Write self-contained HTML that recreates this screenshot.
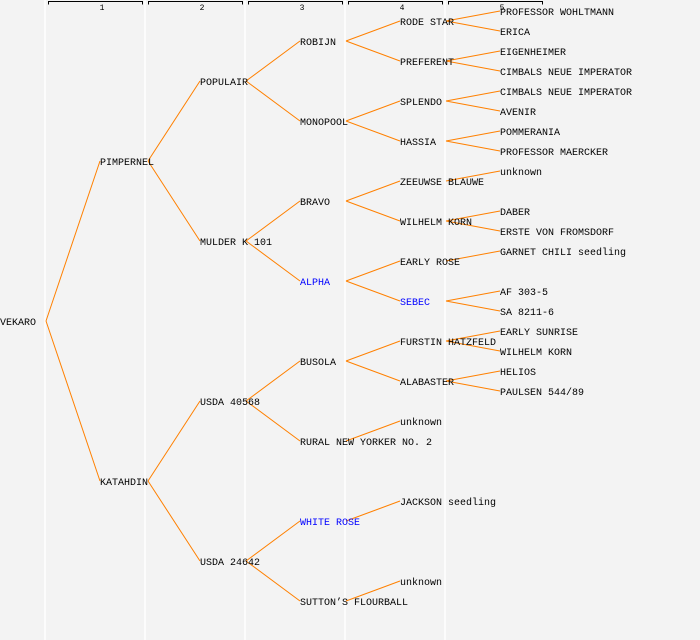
<!DOCTYPE html>
<html><head><style>
html,body{margin:0;padding:0;background:#f3f3f3;}
svg{display:block;}
text{font-family:"Liberation Mono","DejaVu Sans Mono",monospace;font-size:10px;fill:#000;}
.b{fill:#0000ff;}
.h{font-size:8px;}
</style></head><body>
<svg width="700" height="640" viewBox="0 0 700 640" xmlns="http://www.w3.org/2000/svg">
<rect width="700" height="640" fill="#f3f3f3"/>
<g stroke="#ffffff" stroke-width="1.5">
<line x1="45" y1="0" x2="45" y2="640"/><line x1="145" y1="0" x2="145" y2="640"/>
<line x1="245" y1="0" x2="245" y2="640"/><line x1="345" y1="0" x2="345" y2="640"/>
<line x1="445" y1="0" x2="445" y2="640"/>
</g>
<g stroke="#000" stroke-width="1" fill="none">
<path d="M48.5 4.5V1.5H142.5V4.5"/><path d="M148.5 4.5V1.5H242.5V4.5"/>
<path d="M248.5 4.5V1.5H342.5V4.5"/><path d="M348.5 4.5V1.5H442.5V4.5"/>
<path d="M448.5 4.5V1.5H542.5V4.5"/>
</g>
<g text-anchor="middle">
<text class="h" x="102" y="10">1</text><text class="h" x="202" y="10">2</text>
<text class="h" x="302" y="10">3</text><text class="h" x="402" y="10">4</text>
<text class="h" x="502" y="10">5</text>
</g>
<g stroke="#ff8000" stroke-width="1" fill="none">
<path d="M46 321L100 161M46 321L100 481"/>
<path d="M148 161L200 81M148 161L200 241M148 481L200 401M148 481L200 561"/>
<path d="M246 81L300 41M246 81L300 121M246 241L300 201M246 241L300 281M246 401L300 361M246 401L300 441M246 561L300 521M246 561L300 601"/>
<path d="M346 41L400 21M346 41L400 61M346 121L400 101M346 121L400 141M346 201L400 181M346 201L400 221M346 281L400 261M346 281L400 301M346 361L400 341M346 361L400 381M346 441L400 421M346 521L400 501M346 601L400 581"/>
<path d="M446 21L500 11M446 21L500 31M446 61L500 51M446 61L500 71M446 101L500 91M446 101L500 111M446 141L500 131M446 141L500 151M446 181L500 171M446 221L500 211M446 221L500 231M446 261L500 251M446 301L500 291M446 301L500 311M446 341L500 331M446 341L500 351M446 381L500 371M446 381L500 391"/>
</g>
<g transform="translate(0,-1)">
<text x="0" y="326">VEKARO</text>
<text x="100" y="166">PIMPERNEL</text>
<text x="100" y="486">KATAHDIN</text>
<text x="200" y="86">POPULAIR</text>
<text x="200" y="246">MULDER K 101</text>
<text x="200" y="406">USDA 40568</text>
<text x="200" y="566">USDA 24642</text>
<text x="300" y="46">ROBIJN</text>
<text x="300" y="126">MONOPOOL</text>
<text x="300" y="206">BRAVO</text>
<text x="300" y="286" class="b">ALPHA</text>
<text x="300" y="366">BUSOLA</text>
<text x="300" y="446">RURAL NEW YORKER NO. 2</text>
<text x="300" y="526" class="b">WHITE ROSE</text>
<text x="300" y="606">SUTTON’S FLOURBALL</text>
<text x="400" y="26">RODE STAR</text>
<text x="400" y="66">PREFERENT</text>
<text x="400" y="106">SPLENDO</text>
<text x="400" y="146">HASSIA</text>
<text x="400" y="186">ZEEUWSE BLAUWE</text>
<text x="400" y="226">WILHELM KORN</text>
<text x="400" y="266">EARLY ROSE</text>
<text x="400" y="306" class="b">SEBEC</text>
<text x="400" y="346">FURSTIN HATZFELD</text>
<text x="400" y="386">ALABASTER</text>
<text x="400" y="426">unknown</text>
<text x="400" y="506">JACKSON seedling</text>
<text x="400" y="586">unknown</text>
<text x="500" y="16">PROFESSOR WOHLTMANN</text>
<text x="500" y="36">ERICA</text>
<text x="500" y="56">EIGENHEIMER</text>
<text x="500" y="76">CIMBALS NEUE IMPERATOR</text>
<text x="500" y="96">CIMBALS NEUE IMPERATOR</text>
<text x="500" y="116">AVENIR</text>
<text x="500" y="136">POMMERANIA</text>
<text x="500" y="156">PROFESSOR MAERCKER</text>
<text x="500" y="176">unknown</text>
<text x="500" y="216">DABER</text>
<text x="500" y="236">ERSTE VON FROMSDORF</text>
<text x="500" y="256">GARNET CHILI seedling</text>
<text x="500" y="296">AF 303-5</text>
<text x="500" y="316">SA 8211-6</text>
<text x="500" y="336">EARLY SUNRISE</text>
<text x="500" y="356">WILHELM KORN</text>
<text x="500" y="376">HELIOS</text>
<text x="500" y="396">PAULSEN 544/89</text>
</g>
</svg>
</body></html>
